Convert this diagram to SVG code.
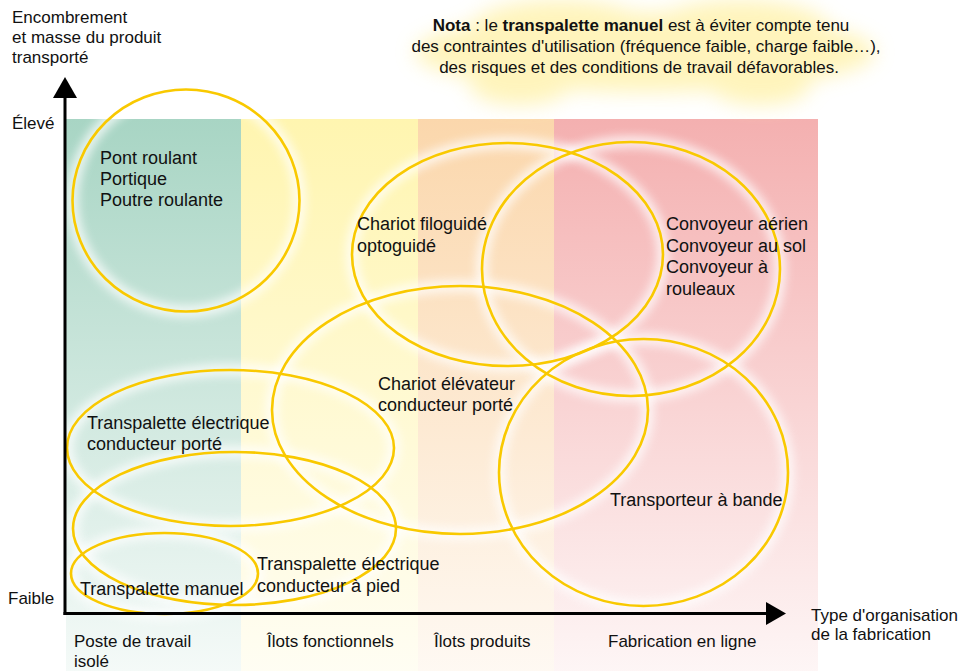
<svg xmlns="http://www.w3.org/2000/svg" width="960" height="671" viewBox="0 0 960 671">
<defs>
<linearGradient id="gGreen" x1="0" y1="0" x2="0" y2="1"><stop offset="0" stop-color="#A8D5C4"/><stop offset="1" stop-color="#A8D5C4" stop-opacity="0.12"/></linearGradient>
<linearGradient id="gYellow" x1="0" y1="0" x2="0" y2="1"><stop offset="0" stop-color="#FFF5B0"/><stop offset="1" stop-color="#FFF5B0" stop-opacity="0.15"/></linearGradient>
<linearGradient id="gOrange" x1="0" y1="0" x2="0" y2="1"><stop offset="0" stop-color="#FBD7AC"/><stop offset="1" stop-color="#FBD7AC" stop-opacity="0.15"/></linearGradient>
<linearGradient id="gPink" x1="0" y1="0" x2="0" y2="1"><stop offset="0" stop-color="#F4B0B0"/><stop offset="1" stop-color="#F4B0B0" stop-opacity="0.12"/></linearGradient>
<filter id="glow" x="-20%" y="-20%" width="140%" height="140%"><feGaussianBlur stdDeviation="5"/></filter>
<filter id="cloud" x="-30%" y="-50%" width="160%" height="200%"><feGaussianBlur stdDeviation="10"/></filter>
</defs>
<style>
text{font-family:"Liberation Sans",Arial,Helvetica,sans-serif;fill:#111;}
.ax{font-size:17px;}
.lb{font-size:18px;}
.halo{fill:none;stroke:#ffffff;stroke-width:12;opacity:0.75;filter:url(#glow);}
.ring{fill:none;stroke:#F9C900;stroke-width:2.6;}
</style>
<rect width="960" height="671" fill="#ffffff"/>
<g id="columns">
<rect x="66" y="119" width="175" height="552" fill="url(#gGreen)"/>
<rect x="241" y="119" width="177" height="552" fill="url(#gYellow)"/>
<rect x="418" y="119" width="136" height="552" fill="url(#gOrange)"/>
<rect x="554" y="119" width="264" height="552" fill="url(#gPink)"/>
</g>
<g id="nota-bg" filter="url(#cloud)" fill="#FFF1A6" opacity="0.75">
<ellipse cx="645" cy="52" rx="230" ry="40"/>
<ellipse cx="560" cy="30" rx="90" ry="30"/>
<ellipse cx="740" cy="30" rx="90" ry="30"/>
<ellipse cx="520" cy="85" rx="50" ry="20"/>
<ellipse cx="760" cy="85" rx="50" ry="20"/>
</g>
<g id="halos">
<ellipse class="halo" cx="186" cy="200.5" rx="113.5" ry="111"/>
<ellipse class="halo" cx="507.5" cy="254.5" rx="155.5" ry="111.5"/>
<ellipse class="halo" cx="631" cy="269" rx="149" ry="127"/>
<ellipse class="halo" cx="460" cy="410" rx="188" ry="124"/>
<ellipse class="halo" cx="643.5" cy="472.5" rx="144.5" ry="133.5"/>
<ellipse class="halo" cx="230.5" cy="448" rx="163.5" ry="78"/>
<ellipse class="halo" cx="234.5" cy="528.5" rx="161.5" ry="76.5"/>
<ellipse class="halo" cx="164.5" cy="573.5" rx="93.5" ry="40.5"/>
</g>
<g id="pont-roulant">
<ellipse class="ring" cx="186" cy="200.5" rx="113.5" ry="111"/>
<text class="lb" x="100" y="164">Pont roulant</text>
<text class="lb" x="100" y="185">Portique</text>
<text class="lb" x="100" y="206">Poutre roulante</text>
</g>
<g id="chariot-filoguide">
<ellipse class="ring" cx="507.5" cy="254.5" rx="155.5" ry="111.5"/>
<text class="lb" x="357" y="230">Chariot filoguidé</text>
<text class="lb" x="357" y="251.5">optoguidé</text>
</g>
<g id="convoyeurs">
<ellipse class="ring" cx="631" cy="269" rx="149" ry="127"/>
<text class="lb" x="666" y="230">Convoyeur aérien</text>
<text class="lb" x="666" y="251.5">Convoyeur au sol</text>
<text class="lb" x="666" y="273">Convoyeur à</text>
<text class="lb" x="666" y="294.5">rouleaux</text>
</g>
<g id="chariot-elevateur">
<ellipse class="ring" cx="460" cy="410" rx="188" ry="124"/>
<text class="lb" x="378" y="390">Chariot élévateur</text>
<text class="lb" x="378" y="411">conducteur porté</text>
</g>
<g id="transporteur-bande">
<ellipse class="ring" cx="643.5" cy="472.5" rx="144.5" ry="133.5"/>
<text class="lb" x="610" y="506">Transporteur à bande</text>
</g>
<g id="transpalette-electrique-porte">
<ellipse class="ring" cx="230.5" cy="448" rx="163.5" ry="78"/>
<text class="lb" x="87" y="429">Transpalette électrique</text>
<text class="lb" x="87" y="449.5">conducteur porté</text>
</g>
<g id="transpalette-electrique-pied">
<ellipse class="ring" cx="234.5" cy="528.5" rx="161.5" ry="76.5"/>
<text class="lb" x="257" y="570">Transpalette électrique</text>
<text class="lb" x="257" y="591.5">conducteur à pied</text>
</g>
<g id="transpalette-manuel">
<ellipse class="ring" cx="164.5" cy="573.5" rx="93.5" ry="40.5"/>
<text class="lb" x="80" y="595">Transpalette manuel</text>
</g>
<g id="axes">
<line x1="65" y1="96" x2="65" y2="615" stroke="#000" stroke-width="3"/>
<polygon points="53,98 65,77 77,98" fill="#000"/>
<line x1="63.5" y1="613.5" x2="768" y2="613.5" stroke="#000" stroke-width="3"/>
<polygon points="766,602 786,613.5 766,625" fill="#000"/>
</g>
<g id="axis-labels">
<text class="ax" x="12" y="23">Encombrement</text>
<text class="ax" x="12" y="43">et masse du produit</text>
<text class="ax" x="12" y="63">transporté</text>
<text class="ax" x="12" y="129">Élevé</text>
<text class="ax" x="8" y="604">Faible</text>
<text class="ax" x="811" y="621">Type d'organisation</text>
<text class="ax" x="811" y="640">de la fabrication</text>
<text class="ax" x="74" y="647">Poste de travail</text>
<text class="ax" x="74" y="667">isolé</text>
<text class="ax" x="267" y="647">Îlots fonctionnels</text>
<text class="ax" x="434" y="647">Îlots produits</text>
<text class="ax" x="608" y="647">Fabrication en ligne</text>
</g>
<g id="nota">
<text class="ax" x="641" y="31" text-anchor="middle"><tspan font-weight="bold">Nota</tspan> : le <tspan font-weight="bold">transpalette manuel</tspan> est à éviter compte tenu</text>
<text class="ax" x="646" y="52" text-anchor="middle">des contraintes d'utilisation (fréquence faible, charge faible…),</text>
<text class="ax" x="639" y="73" text-anchor="middle">des risques et des conditions de travail défavorables.</text>
</g>
</svg>
